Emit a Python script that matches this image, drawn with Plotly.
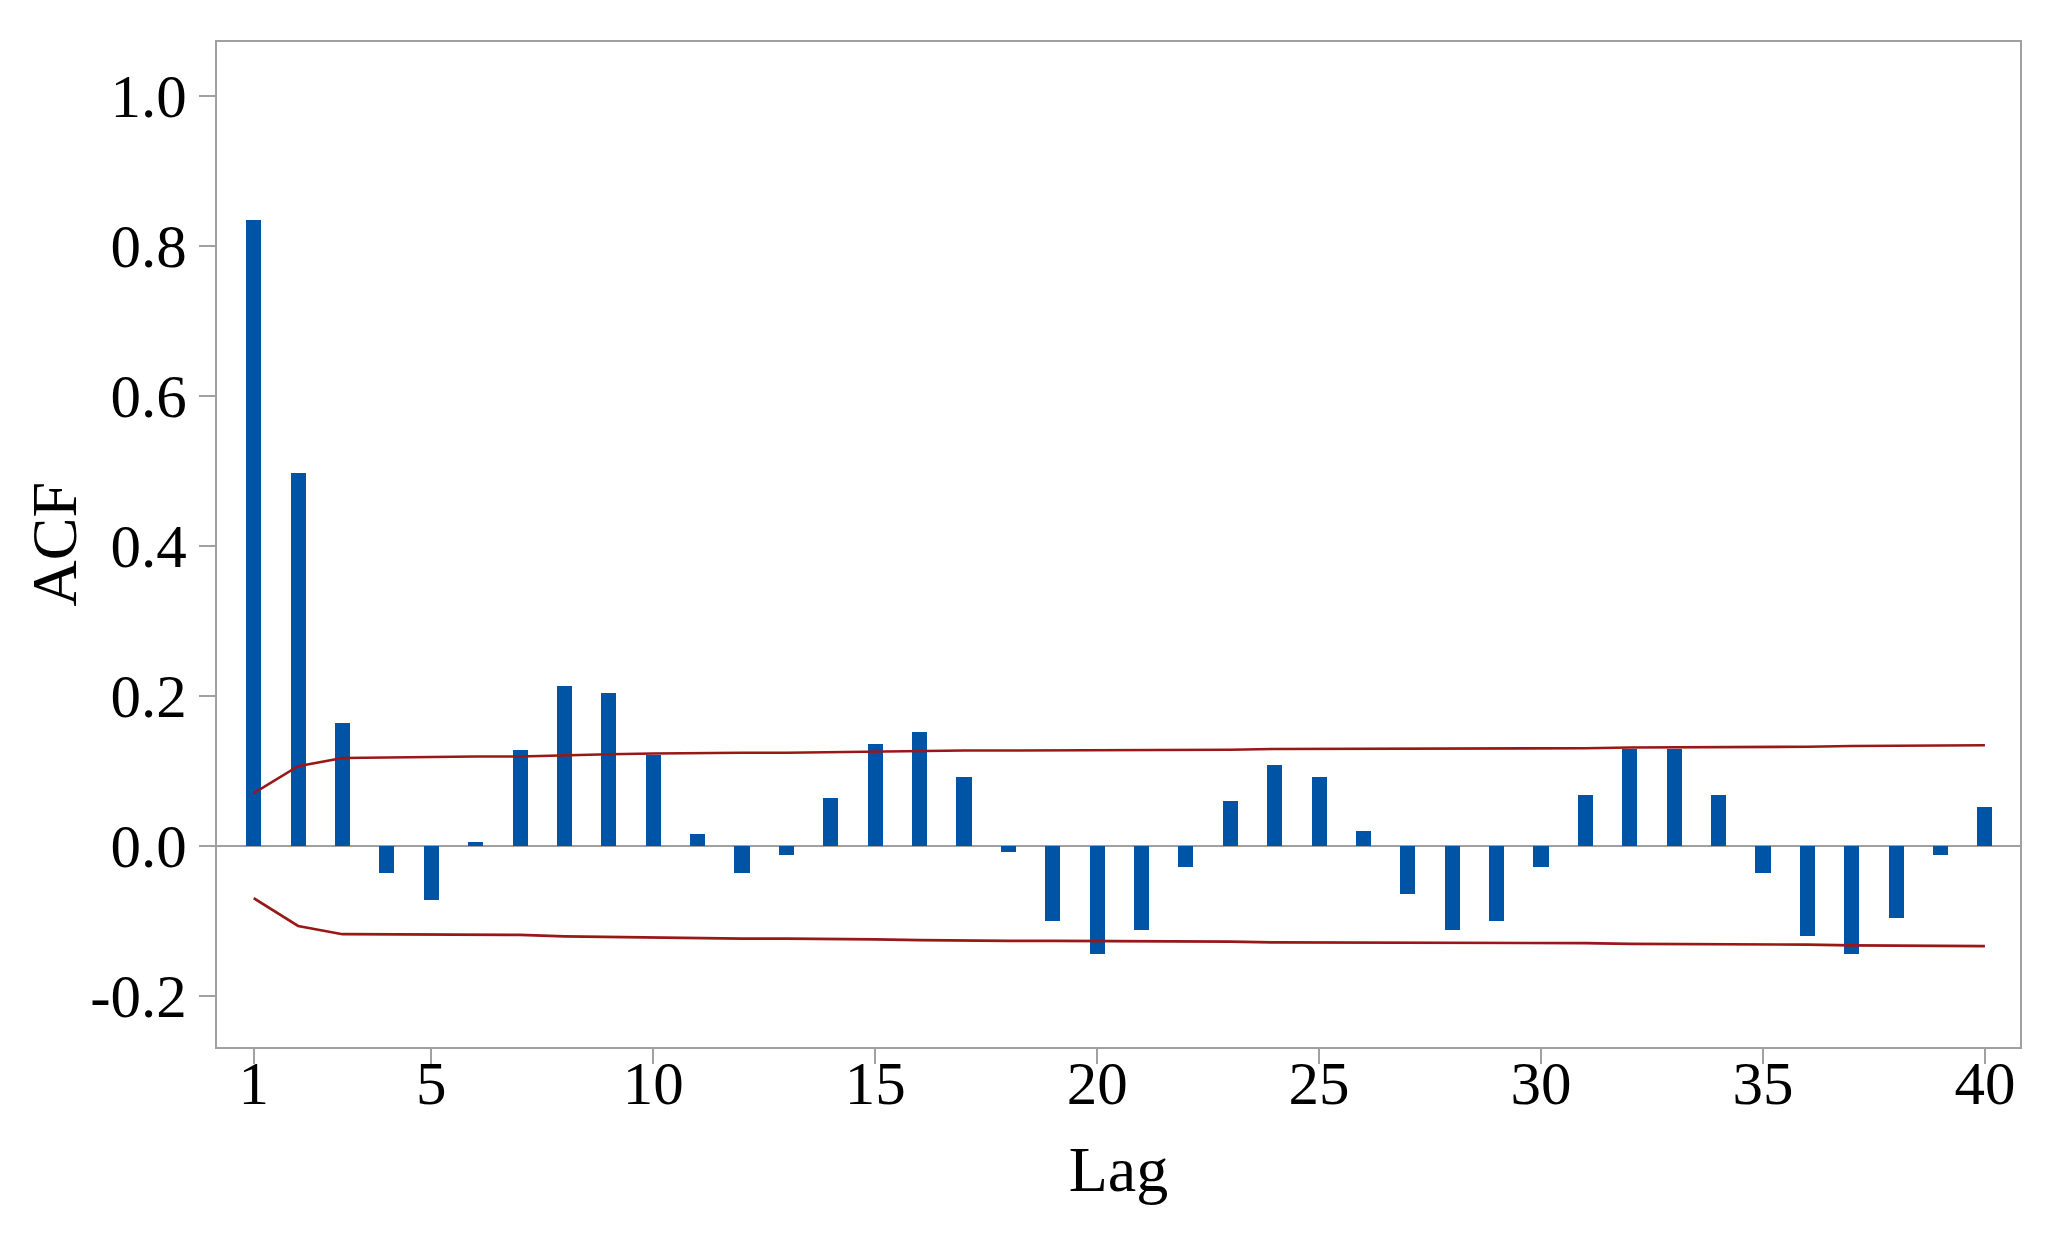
import plotly.graph_objects as go

lags = list(range(1, 41))
acf = [0.834, 0.497, 0.164, -0.036, -0.072, 0.005, 0.128, 0.213, 0.204, 0.121,
       0.016, -0.036, -0.012, 0.064, 0.136, 0.152, 0.092, -0.008, -0.100, -0.144,
       -0.112, -0.028, 0.060, 0.108, 0.092, 0.020, -0.064, -0.112, -0.100, -0.029,
       0.067, 0.129, 0.129, 0.067, -0.037, -0.121, -0.145, -0.097, -0.013, 0.051]
upper = [0.070, 0.106, 0.117, 0.118, 0.118, 0.119, 0.119, 0.121, 0.122, 0.123,
         0.124, 0.124, 0.124, 0.125, 0.125, 0.126, 0.127, 0.127, 0.127, 0.127,
         0.128, 0.128, 0.128, 0.129, 0.129, 0.129, 0.129, 0.130, 0.130, 0.130,
         0.130, 0.131, 0.131, 0.131, 0.131, 0.132, 0.133, 0.133, 0.134, 0.134]
lower = [-0.070, -0.107, -0.118, -0.118, -0.118, -0.119, -0.119, -0.121, -0.122, -0.123,
         -0.124, -0.124, -0.124, -0.125, -0.125, -0.126, -0.127, -0.127, -0.127, -0.127,
         -0.128, -0.128, -0.128, -0.129, -0.129, -0.129, -0.129, -0.130, -0.130, -0.130,
         -0.130, -0.131, -0.131, -0.131, -0.131, -0.132, -0.133, -0.133, -0.134, -0.134]
x_ticks = [1, 5, 10, 15, 20, 25, 30, 35, 40]
y_ticks = [1.0, 0.8, 0.6, 0.4, 0.2, 0.0, -0.2]
y_ticktext = ["1.0", "0.8", "0.6", "0.4", "0.2", "0.0", "-0.2"]
x_title = "Lag"
y_title = "ACF"

FONT = "Liberation Serif"
GRAY = "#a0a0a0"
RED = "#981818"
BLUE = "#0054a5"

fig = go.Figure()
fig.add_trace(go.Bar(x=lags, y=acf, width=0.34, marker=dict(color=BLUE, line=dict(width=0)),
                     showlegend=False))
fig.add_trace(go.Scatter(x=lags, y=upper, mode="lines", line=dict(color=RED, width=2.6),
                         showlegend=False))
fig.add_trace(go.Scatter(x=lags, y=lower, mode="lines", line=dict(color=RED, width=2.6),
                         showlegend=False))

fig.update_layout(
    width=2046, height=1227,
    margin=dict(l=209, r=34, t=34, b=188, autoexpand=False),
    paper_bgcolor="white", plot_bgcolor="white",
    font=dict(family=FONT, color="black", size=61),
    bargap=0,
)
fig.add_annotation(
    text=y_title, xref="paper", yref="paper", x=0, y=0.5, xanchor="center", yanchor="middle",
    xshift=-163, textangle=-90, showarrow=False,
    font=dict(family=FONT, size=64, color="black"),
)
fig.update_xaxes(
    range=[0.173, 40.79], tickvals=x_ticks, ticktext=[str(v) for v in x_ticks],
    showgrid=False, zeroline=False, showline=True, linecolor=GRAY, linewidth=2, mirror=True,
    ticks="outside", ticklen=15, tickwidth=2, tickcolor=GRAY, ticklabelstandoff=-33,
    tickfont=dict(family=FONT, size=61, color="black"),
    title=dict(text=x_title, font=dict(family=FONT, size=64, color="black"), standoff=30),
    automargin=False,
)
fig.update_yaxes(
    range=[-0.2685, 1.072], tickvals=y_ticks, ticktext=y_ticktext,
    showgrid=False, zeroline=True, zerolinecolor=GRAY, zerolinewidth=2,
    showline=True, linecolor=GRAY, linewidth=2, mirror=True,
    ticks="outside", ticklen=16, tickwidth=2, tickcolor=GRAY,
    tickfont=dict(family=FONT, size=61, color="black"),
    automargin=False,
)

fig.write_html("out.html")
